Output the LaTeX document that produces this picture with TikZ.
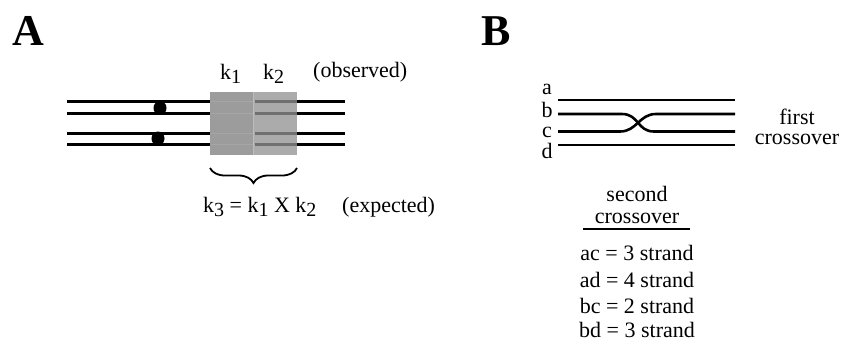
\documentclass[tikz,border=0pt]{standalone}
\usepackage{fontspec}
\setmainfont{Liberation Serif}
\usetikzlibrary{decorations.pathreplacing}
\definecolor{boxL}{HTML}{9C9C9C}
\definecolor{boxR}{HTML}{ABABAB}
\definecolor{lineL}{HTML}{A6A6A6}
\definecolor{lineR}{HTML}{707070}
\newcommand\sbs[1]{\raisebox{-0.45ex}{\fontsize{20}{20}\selectfont #1}}
\begin{document}
\begin{tikzpicture}[x=1pt,y=-1pt,
  strand/.style={line width=2.6pt,black},
  lbl/.style={font=\fontsize{22}{24}\selectfont, inner sep=0pt},
  panel/.style={font=\fontsize{44}{44}\selectfont\bfseries, inner sep=0pt},
  thin/.style={line width=1.8pt,black}]
\useasboundingbox[fill=white] (0,0) rectangle (841,341);

% ---------- Panel A ----------
\node[panel] (pA) at (28,31) {A};

\foreach \y/\n in {101.5/1,113.5/2,133.5/3,144.5/4}{
  \draw[strand] (67,\y) coordinate (l\n) -- (210,\y) coordinate (m\n);
  \draw[strand] (297,\y) coordinate (r\n) -- (345,\y) coordinate (e\n);
}
\fill[boxL] (210,92) rectangle (253.5,155);
\fill[boxR] (253.5,92) rectangle (297,155);
\foreach \y in {101.5,113.5,133.5,144.5}{
  \draw[line width=1.4pt,lineL] (211,\y) -- (253,\y);
  \draw[line width=2.2pt,lineR] (254.5,\y) -- (297,\y);
}
\draw[line width=1pt,color=boxR!80!white] (253.5,92) -- (253.5,155);

\fill (160,108) ellipse (6.5 and 7);
\fill (158,138.5) ellipse (6.5 and 7);

\node[lbl,anchor=base west] (k1) at (220,79) {k\sbs{1}};
\node[lbl,anchor=base west] (k2) at (263,79) {k\sbs{2}};
\node[lbl,anchor=base west] (obs) at (313,77) {(observed)};

\coordinate (bl) at (210,168);
\coordinate (br) at (297,168);
\draw[line width=1.8pt,decorate,decoration={brace,mirror,amplitude=15pt}] (bl) -- (br);

\node[lbl,anchor=base west] (k3) at (203,212) {k\sbs{3} = k\sbs{1} X k\sbs{2}};
\node[lbl,anchor=base west] (exp) at (342,212) {(expected)};

% ---------- Panel B ----------
\node[panel] (pB) at (496,31) {B};

\node[lbl,anchor=base] (la) at (547,94) {a};
\node[lbl,anchor=base] (lb) at (547,117) {b};
\node[lbl,anchor=base] (lc) at (547,137) {c};
\node[lbl,anchor=base] (ld) at (547,158) {d};

\coordinate (a0) at (558,100);   \coordinate (a1) at (735,100);
\coordinate (d0) at (558,145);   \coordinate (d1) at (735,145);
\draw[strand] (a0) -- (a1);
\draw[strand] (d0) -- (d1);
\draw[strand] (558,114) -- (622,114) .. controls (639,114) and (637,131.5) .. (654,131.5) -- (735,131.5);
\draw[strand] (558,131.5) -- (620,131.5) .. controls (637,131.5) and (639,114) .. (656,114) -- (735,114);

\node[lbl,anchor=base] (first) at (797,124) {first};
\node[lbl,anchor=base] (cross1) at (797,144) {crossover};

\node[lbl,anchor=base] (second) at (637,201) {second};
\node[lbl,anchor=base] (cross2) at (637,223) {crossover};
\coordinate (u0) at (583,229); \coordinate (u1) at (690,229);
\draw[thin] (u0) -- (u1);

\node[lbl,anchor=base] (ac) at (637,260) {ac = 3 strand};
\node[lbl,anchor=base] (ad) at (637,287) {ad = 4 strand};
\node[lbl,anchor=base] (bc) at (637,313) {bc = 2 strand};
\node[lbl,anchor=base] (bd) at (637,337) {bd = 3 strand};
\end{tikzpicture}
\end{document}
